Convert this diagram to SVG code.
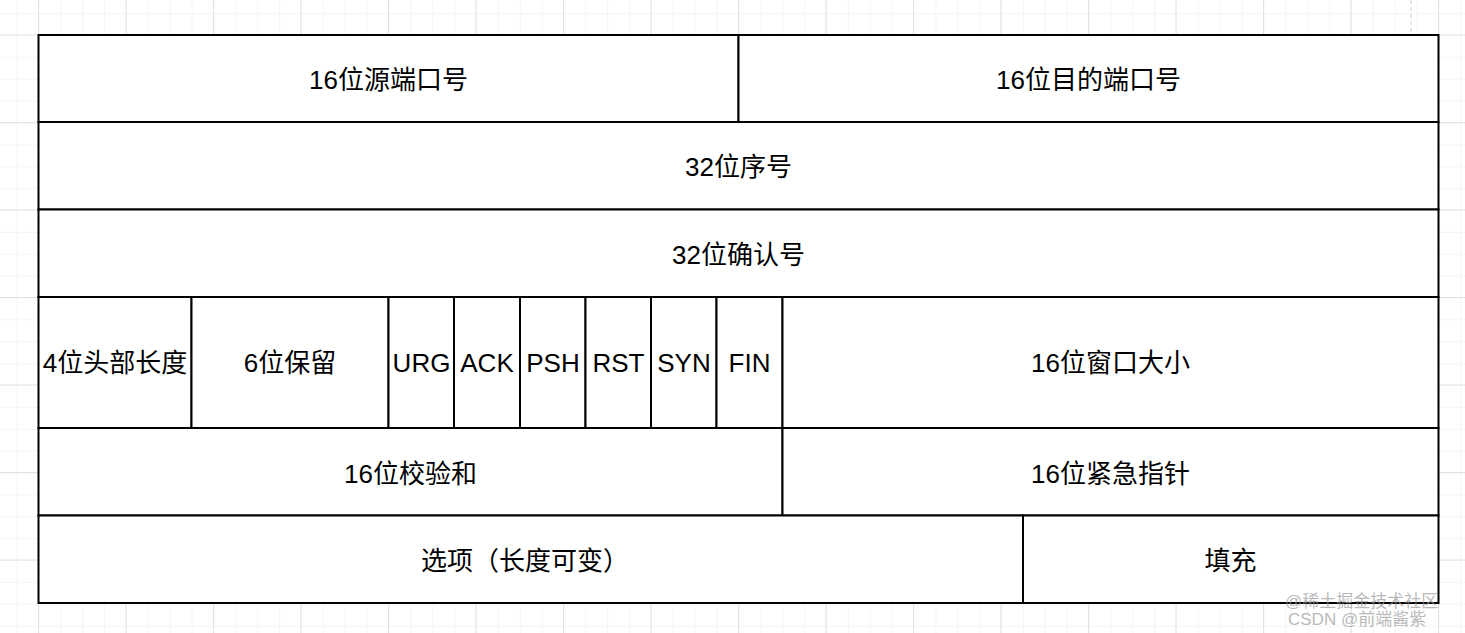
<svg xmlns="http://www.w3.org/2000/svg" width="1465" height="633" viewBox="0 0 1465 633">
<defs>
<pattern id="minor" x="38.5" y="35" width="21.875" height="21.875" patternUnits="userSpaceOnUse">
<path d="M0 0.5H21.875M0.5 0V21.875" fill="none" stroke="#f5f5f5" stroke-width="1"/>
</pattern>
<pattern id="major" x="38" y="34.5" width="87.5" height="87.5" patternUnits="userSpaceOnUse">
<path d="M0 0.5H87.5M0.5 0V87.5" fill="none" stroke="#e3e3e3" stroke-width="1"/>
</pattern>
</defs>
<style>
.cell{fill:#ffffff;stroke:#000000;stroke-width:2}
.t{font-family:"Liberation Sans","Noto Sans CJK SC",sans-serif;font-size:26px;fill:#000000;text-anchor:middle;dominant-baseline:central}
.wm{font-family:"Liberation Sans","Noto Sans CJK SC",sans-serif;font-size:17px;fill:#9a9a9a;fill-opacity:0.7}
</style>
<rect width="1465" height="633" fill="#ffffff"/>
<rect width="1465" height="633" fill="url(#minor)"/>
<rect width="1465" height="633" fill="url(#major)"/>
<line x1="1411" y1="0" x2="1411" y2="35" stroke="#cccccc" stroke-width="1" stroke-dasharray="4 3"/>
<g id="row1">
<g id="src-port"><rect class="cell" x="38.5" y="35" width="700" height="87"/><text class="t" x="388.5" y="79.5">16位源端口号</text></g>
<g id="dst-port"><rect class="cell" x="738.5" y="35" width="700" height="87"/><text class="t" x="1088.5" y="79.5">16位目的端口号</text></g>
</g>
<g id="seq"><rect class="cell" x="38.5" y="122" width="1400" height="87.5"/><text class="t" x="738.5" y="167">32位序号</text></g>
<g id="ack-num"><rect class="cell" x="38.5" y="209.5" width="1400" height="87.5"/><text class="t" x="738.5" y="254.5">32位确认号</text></g>
<g id="row4">
<g id="hdr-len"><rect class="cell" x="38.5" y="297" width="153" height="131"/><text class="t" x="115" y="363">4位头部长度</text></g>
<g id="reserved"><rect class="cell" x="191.5" y="297" width="197" height="131"/><text class="t" x="290" y="363">6位保留</text></g>
<g id="urg"><rect class="cell" x="388.5" y="297" width="65.5" height="131"/><text class="t" x="421.5" y="363">URG</text></g>
<g id="ack"><rect class="cell" x="454" y="297" width="66" height="131"/><text class="t" x="487" y="363">ACK</text></g>
<g id="psh"><rect class="cell" x="520" y="297" width="65.5" height="131"/><text class="t" x="553" y="363">PSH</text></g>
<g id="rst"><rect class="cell" x="585.5" y="297" width="65.5" height="131"/><text class="t" x="618.5" y="363">RST</text></g>
<g id="syn"><rect class="cell" x="651" y="297" width="65.5" height="131"/><text class="t" x="684" y="363">SYN</text></g>
<g id="fin"><rect class="cell" x="716.5" y="297" width="66" height="131"/><text class="t" x="749.5" y="363">FIN</text></g>
<g id="window"><rect class="cell" x="782.5" y="297" width="656" height="131"/><text class="t" x="1110.5" y="363">16位窗口大小</text></g>
</g>
<g id="row5">
<g id="checksum"><rect class="cell" x="38.5" y="428" width="744" height="87.5"/><text class="t" x="410.5" y="473.5">16位校验和</text></g>
<g id="urgent-ptr"><rect class="cell" x="782.5" y="428" width="656" height="87.5"/><text class="t" x="1110.5" y="473.5">16位紧急指针</text></g>
</g>
<g id="row6">
<g id="options"><rect class="cell" x="38.5" y="515.5" width="984.5" height="87.5"/><text class="t" x="525" y="560.5">选项（长度可变）</text></g>
<g id="padding"><rect class="cell" x="1023" y="515.5" width="415.5" height="87.5"/><text class="t" x="1230.5" y="560.5">填充</text></g>
</g>
<g id="connectors"></g>
<text class="wm" x="1285" y="607">@稀土掘金技术社区</text>
<text class="wm" x="1288" y="625">CSDN @前端酱紫</text>
</svg>
